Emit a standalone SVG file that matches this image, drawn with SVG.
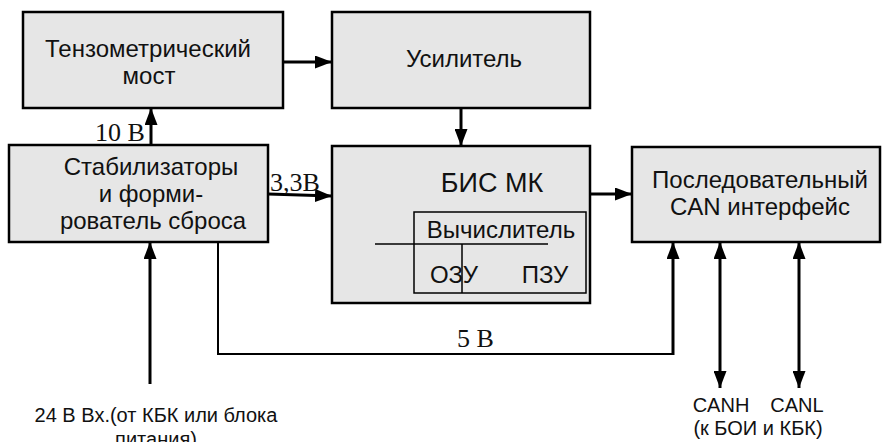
<svg xmlns="http://www.w3.org/2000/svg" width="883" height="442" viewBox="0 0 883 442">
<style>
.box{fill:#e6e6e6;stroke:#000;stroke-width:2.5}
.t{font-family:"Liberation Sans",Arial,sans-serif;font-size:24px;fill:#111;text-anchor:middle}
.s{font-family:"Liberation Serif","Times New Roman",serif;font-size:26px;fill:#111}
.c{stroke:#000;stroke-width:3;fill:none}
.thin{stroke:#000;stroke-width:2;fill:none}
.l{font-family:"Liberation Sans",Arial,sans-serif;font-size:20px;fill:#111;text-anchor:middle}
</style>
<defs>
<marker id="ah" viewBox="0 0 17 13" refX="17" refY="6.5" markerWidth="17" markerHeight="13" markerUnits="userSpaceOnUse" orient="auto-start-reverse">
<path d="M0,0 L17,6.5 L0,13 z" fill="#000"/>
</marker>
</defs>
<rect width="883" height="442" fill="#fff"/>
<g id="tenzo">
<rect class="box" x="23" y="12" width="260" height="96"/>
<text class="t" x="148" y="57">Тензометрический</text>
<text class="t" x="149" y="84">мост</text>
</g>
<g id="usilitel">
<rect class="box" x="332" y="12" width="258" height="96"/>
<text class="t" x="464" y="67">Усилитель</text>
</g>
<g id="stab">
<rect class="box" x="9" y="145" width="259" height="97"/>
<text class="t" x="151" y="175">Стабилизаторы</text>
<text class="t" x="151" y="202">и форми-</text>
<text class="t" x="153" y="229">рователь сброса</text>
</g>
<g id="bis">
<rect class="box" x="332" y="146" width="258" height="157"/>
<text class="t" x="492" y="192" style="font-size:27px">БИС МК</text>
<rect x="414" y="212" width="172" height="81" fill="none" stroke="#000" stroke-width="1.5"/>
<line x1="375" y1="244" x2="548" y2="244" stroke="#000" stroke-width="1.5"/>
<line x1="462" y1="244" x2="462" y2="293" stroke="#000" stroke-width="1.5"/>
<text class="t" x="501" y="238">Вычислитель</text>
<text class="t" x="454" y="283">ОЗУ</text>
<text class="t" x="545" y="283">ПЗУ</text>
</g>
<g id="can">
<rect class="box" x="632" y="147" width="248" height="95"/>
<text class="t" x="760" y="188">Последовательный</text>
<text class="t" x="760" y="215">CAN интерфейс</text>
</g>
<g id="connectors">
<line class="c" x1="283" y1="62" x2="332" y2="62" marker-end="url(#ah)"/>
<line class="c" x1="461" y1="108" x2="461" y2="146" marker-end="url(#ah)"/>
<line class="c" x1="151" y1="145" x2="151" y2="108" marker-end="url(#ah)"/>
<line class="c" x1="268" y1="194" x2="332" y2="196" marker-end="url(#ah)"/>
<line class="c" x1="590" y1="194" x2="632" y2="194" marker-end="url(#ah)"/>
<line class="c" x1="150" y1="384" x2="150" y2="242" marker-end="url(#ah)"/>
<polyline class="thin" points="218,242 218,354 673,354"/>
<line class="c" x1="673" y1="355" x2="673" y2="242" marker-end="url(#ah)"/>
<line class="c" x1="720" y1="388" x2="720" y2="242" marker-start="url(#ah)" marker-end="url(#ah)"/>
<line class="c" x1="799" y1="388" x2="799" y2="242" marker-start="url(#ah)" marker-end="url(#ah)"/>
<text class="s" x="95" y="141">10 В</text>
<text class="s" x="270" y="191">3,3В</text>
<text class="s" x="457" y="347">5 В</text>
<text class="l" x="156" y="422">24 В Вх.(от КБК или блока</text>
<text class="l" x="156" y="446">питания)</text>
<text class="l" x="721" y="412">CANH</text>
<text class="l" x="797" y="412">CANL</text>
<text class="l" x="758" y="435">(к БОИ и КБК)</text>
</g>
</svg>
